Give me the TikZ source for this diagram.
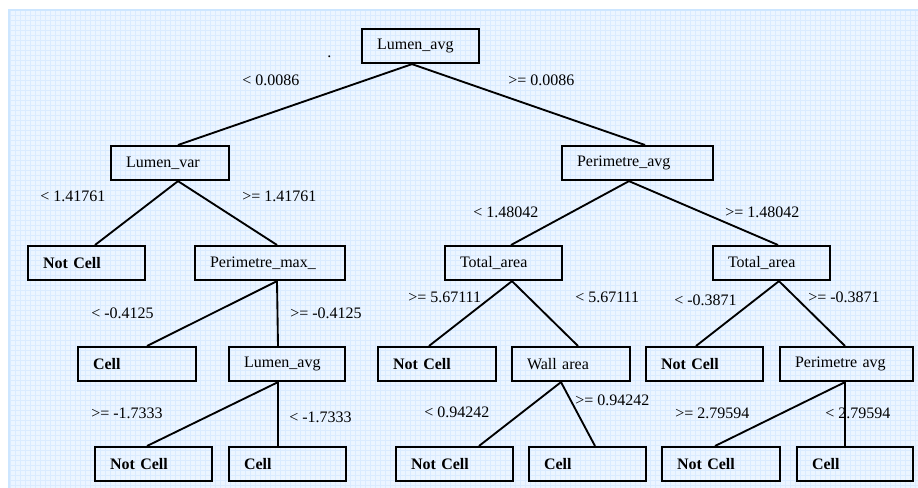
\documentclass[tikz,border=0pt]{standalone}
\usepackage{fontspec}
\setmainfont{Liberation Serif}
\usetikzlibrary{calc}
\definecolor{bgblue}{RGB}{236,245,255}
\definecolor{gridblue}{RGB}{218,235,255}
\definecolor{edgeblue}{RGB}{205,230,255}

\begin{document}
\begin{tikzpicture}[x=0.75pt,y=-0.75pt,
    every node/.style={font=\fontsize{12}{14}\selectfont},
    box/.style={draw,line width=1.6pt,anchor=north west,minimum height=25.5pt,
        inner xsep=11.25pt,inner ysep=0pt,text width=#1,align=left},
    leaf/.style={box=#1,font=\fontsize{12}{14}\selectfont\bfseries},
    lbl/.style={anchor=west,inner sep=0pt},
    edge/.style={line width=1.4pt}]
        \useasboundingbox (0,0) rectangle (918,488);
        % Background
        \fill[bgblue] (9,10) rectangle (918,488);
        \draw[gridblue,line width=0.3pt,step=3.75pt] (9,10) grid (918,488);
        \draw[edgeblue,line width=1.5pt] (9,488) -- (9,10) -- (918,10);
        % Splits
        \node[box=65.25pt] (root) at (361,28) {Lumen\_avg};
        \node[box=66pt] (lvar) at (110,145) {Lumen\_var};
        \node[box=90.75pt] (pavg) at (561,145) {Perimetre\_avg};
        \node[box=90pt] (pmax) at (194,245) {Perimetre\_max\_};
        \node[box=65.25pt] (tareaA) at (444,245) {Total\_area};
        \node[box=65.25pt] (tareaB) at (712,245) {Total\_area};
        \node[box=64.5pt] (lavg) at (228,346) {Lumen\_avg};
        \node[box=66pt] (warea) at (511,346) {Wall area};
        \node[box=77.25pt] (pavgB) at (779,346) {Perimetre avg};
        % Leaves
        \node[leaf=65.25pt] (ncA) at (27,245) {Not Cell};
        \node[leaf=66pt] (cellA) at (77,346) {Cell};
        \node[leaf=66pt] (ncB) at (377,346) {Not Cell};
        \node[leaf=65.25pt] (ncC) at (645,346) {Not Cell};
        \node[leaf=65.25pt] (ncD) at (94,446) {Not Cell};
        \node[leaf=65.25pt] (cellB) at (228,446) {Cell};
        \node[leaf=65.25pt] (ncE) at (395,446) {Not Cell};
        \node[leaf=65.25pt] (cellC) at (528,446) {Cell};
        \node[leaf=66pt] (ncF) at (661,446) {Not Cell};
        \node[leaf=64.5pt] (cellD) at (796,446) {Cell};
        % Branches
        \draw[edge] ($(root.south west)+(51,0)$) -- ($(lvar.north west)+(68,0)$);
        \draw[edge] ($(root.south west)+(51,0)$) -- ($(pavg.north west)+(84,0)$);
        \draw[edge] ($(lvar.south west)+(68,0)$) -- ($(ncA.north west)+(68,0)$);
        \draw[edge] ($(lvar.south west)+(68,0)$) -- ($(pmax.north west)+(83,0)$);
        \draw[edge] ($(pavg.south west)+(68,0)$) -- ($(tareaA.north west)+(67,0)$);
        \draw[edge] ($(pavg.south west)+(68,0)$) -- ($(tareaB.north west)+(66,0)$);
        \draw[edge] ($(pmax.south west)+(83,0)$) -- ($(cellA.north west)+(70,0)$);
        \draw[edge] ($(pmax.south west)+(83,0)$) -- ($(lavg.north west)+(50,0)$);
        \draw[edge] ($(tareaA.south west)+(68,0)$) -- ($(ncB.north west)+(52,0)$);
        \draw[edge] ($(tareaA.south west)+(68,0)$) -- ($(warea.north west)+(67,0)$);
        \draw[edge] ($(tareaB.south west)+(67,0)$) -- ($(ncC.north west)+(51,0)$);
        \draw[edge] ($(tareaB.south west)+(67,0)$) -- ($(pavgB.north west)+(66,0)$);
        \draw[edge] ($(lavg.south west)+(50,0)$) -- ($(ncD.north west)+(53,0)$);
        \draw[edge] ($(lavg.south west)+(50,0)$) -- ($(cellB.north west)+(50,0)$);
        \draw[edge] ($(warea.south west)+(50,0)$) -- ($(ncE.north west)+(84,0)$);
        \draw[edge] ($(warea.south west)+(50,0)$) -- ($(cellC.north west)+(67,0)$);
        \draw[edge] ($(pavgB.south west)+(66,0)$) -- ($(ncF.north west)+(54,0)$);
        \draw[edge] ($(pavgB.south west)+(66,0)$) -- ($(cellD.north west)+(49,0)$);
        % Thresholds
        \node[lbl] (t1) at (242,80) {< 0.0086};
        \node[lbl] (t2) at (508,80) {>= 0.0086};
        \node[lbl] (t3) at (40,196) {< 1.41761};
        \node[lbl] (t4) at (242,196) {>= 1.41761};
        \node[lbl] (t5) at (473,212) {< 1.48042};
        \node[lbl] (t6) at (725,212) {>= 1.48042};
        \node[lbl] (t7) at (91,313) {< -0.4125};
        \node[lbl] (t8) at (290,313) {>= -0.4125};
        \node[lbl] (t9) at (408,297) {>= 5.67111};
        \node[lbl] (t10) at (575,297) {< 5.67111};
        \node[lbl] (t11) at (674,300) {< -0.3871};
        \node[lbl] (t12) at (808,297) {>= -0.3871};
        \node[lbl] (t13) at (91,413) {>= -1.7333};
        \node[lbl] (t14) at (289,417) {< -1.7333};
        \node[lbl] (t15) at (424,412) {< 0.94242};
        \node[lbl] (t16) at (575,400) {>= 0.94242};
        \node[lbl] (t17) at (675,413) {>= 2.79594};
        \node[lbl] (t18) at (825,413) {< 2.79594};
        \node[lbl] (dot) at (327,57) {.};
    \end{tikzpicture}
\end{document}
